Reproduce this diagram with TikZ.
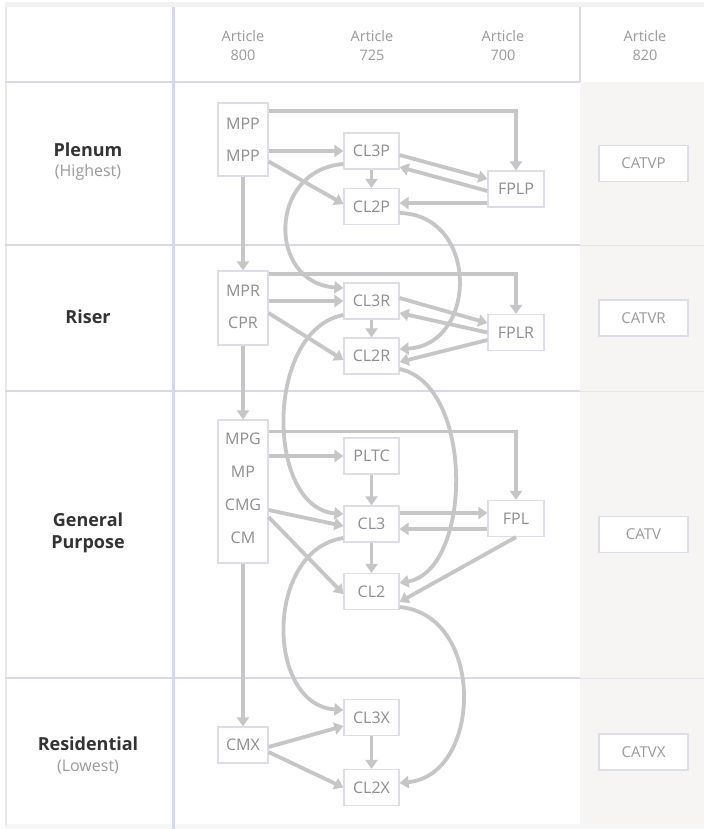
\documentclass[tikz,border=0pt]{standalone}
\usepackage{fontspec}
\setmainfont{Open Sans}
\usetikzlibrary{arrows.meta,calc}
\definecolor{arrowgray}{HTML}{C6C6C6}
\definecolor{boxline}{HTML}{DCDDE5}
\definecolor{boxtext}{HTML}{8E8E8E}
\definecolor{gridline}{HTML}{D7DAE2}
\definecolor{colbg}{HTML}{F6F5F4}
\definecolor{labeltext}{HTML}{333333}
\definecolor{subtext}{HTML}{9A9A9A}
\begin{document}
\begin{tikzpicture}[x=1pt,y=-1pt,
  arr/.style={draw=arrowgray,line width=3.8pt,-{Triangle[length=9pt,width=12pt]}},
  cbox/.style={draw=boxline,line width=1.2pt,fill=white,minimum width=55pt,minimum height=36pt,inner sep=0pt,text=boxtext,font=\fontsize{16}{19}\selectfont},
  tallbox/.style={draw=boxline,line width=1.2pt,fill=white,minimum width=50pt,inner sep=0pt},
  boxlbl/.style={text=boxtext,font=\fontsize{16}{19}\selectfont,inner sep=0pt},
  hdr/.style={text=subtext,font=\fontsize{14.5}{19}\selectfont,align=center,inner sep=0pt},
  rowlbl/.style={text=labeltext,font=\fontsize{18}{22}\selectfont\bfseries,inner sep=0pt},
  rowsub/.style={text=subtext,font=\fontsize{16}{19}\selectfont,inner sep=0pt},
  catvbox/.style={draw=boxline,line width=1.2pt,fill=white,minimum width=89pt,minimum height=36pt,inner sep=0pt,text=subtext,font=\fontsize{15}{18}\selectfont},
]
\useasboundingbox (0,0) rectangle (704,829);
% background and grid
\fill[white] (0,0) rectangle (704,829);
\fill[colbg] (580,82) rectangle (704,826);
\fill[black!5] (5,2) rectangle (704,7);
\fill[black!3] (5,824) rectangle (704,829);
\draw[black!9,line width=1.5pt] (6,7) -- (6,826);
\draw[gridline,line width=2.5pt] (5,82) -- (580,82);
\foreach \yy in {245,391,678}{
  \draw[gridline,line width=2.5pt] (5,\yy) -- (580,\yy);
  \draw[gridline!70,line width=1pt] (580,\yy) -- (704,\yy);
}
\draw[gridline,line width=3pt] (173,7) -- (173,829);
\draw[gridline,line width=2pt] (580,7) -- (580,82);

% headers
\node[hdr] (h800) at (243,46) {Article\\800};
\node[hdr] (h725) at (372,46) {Article\\725};
\node[hdr] (h700) at (503,46) {Article\\700};
\node[hdr] (h820) at (645,46) {Article\\820};

% row labels
\node[rowlbl] (lplenum) at (88,150) {Plenum};
\node[rowsub] (lhigh) at (88,172) {(Highest)};
\node[rowlbl] (lriser) at (88,317) {Riser};
\node[rowlbl] (lgen) at (88,520) {General};
\node[rowlbl] (lpur) at (88,544) {Purpose};
\node[rowlbl] (lres) at (88,744) {Residential};
\node[rowsub] (llow) at (88,767) {(Lowest)};

% Article 800 column
\node[tallbox,minimum height=73pt] (mppbox) at (243,139.5) {};
\node[boxlbl] (mpp1) at (243,124) {MPP};
\node[boxlbl] (mpp2) at (243,156) {MPP};
\node[tallbox,minimum height=74pt] (mprbox) at (243,308) {};
\node[boxlbl] (mpr) at (243,291) {MPR};
\node[boxlbl] (cpr) at (243,323) {CPR};
\node[tallbox,minimum height=143pt] (mpgbox) at (243,491.5) {};
\node[boxlbl] (mpg) at (243,439) {MPG};
\node[boxlbl] (mp) at (243,472) {MP};
\node[boxlbl] (cmg) at (243,505) {CMG};
\node[boxlbl] (cm) at (243,538) {CM};
\node[cbox,minimum width=50pt] (cmx) at (243,745) {CMX};

% Article 725 / 700 columns
\node[cbox] (cl3p) at (371.5,151) {CL3P};
\node[cbox] (cl2p) at (371.5,206.5) {CL2P};
\node[cbox,minimum width=56pt] (fplp) at (516,189) {FPLP};
\node[cbox] (cl3r) at (371.5,301) {CL3R};
\node[cbox] (cl2r) at (371.5,356) {CL2R};
\node[cbox,minimum width=56pt] (fplr) at (516,332.5) {FPLR};
\node[cbox] (pltc) at (371.5,456) {PLTC};
\node[cbox] (cl3) at (371.5,524) {CL3};
\node[cbox] (cl2) at (371.5,591.5) {CL2};
\node[cbox,minimum width=56pt] (fpl) at (516,518.5) {FPL};
\node[cbox] (cl3x) at (371.5,717.5) {CL3X};
\node[cbox] (cl2x) at (371.5,787.5) {CL2X};

% Article 820 column
\node[catvbox] (catvp) at (643.5,163.5) {CATVP};
\node[catvbox] (catvr) at (643.5,318) {CATVR};
\node[catvbox] (catv) at (643.5,534.5) {CATV};
\node[catvbox] (catvx) at (643.5,752) {CATVX};

% vertical arrows in Article 800 column
\draw[arr] (mppbox) -- (mprbox);
\draw[arr] (mprbox) -- (mpgbox);
\draw[arr] (mpgbox) -- (cmx);

% Plenum
\draw[arr] ([yshift=-9pt]mppbox.north east) -| (fplp.north);
\draw[arr] (mppbox.east |- cl3p.west) -- (cl3p.west);
\draw[arr] ([yshift=-22pt]mppbox.east) -- ([yshift=2.5pt]cl2p.west);
\draw[arr] (cl3p) -- (cl2p);
\draw[arr] ([yshift=-4pt]cl3p.east) -- ([yshift=10pt]fplp.west);
\draw[arr] ([yshift=-2pt]fplp.west) -- ([yshift=-16pt]cl3p.east);
\coordinate (fp1) at ([yshift=-14pt]fplp.west);
\draw[arr] (fp1) -- (fp1 -| cl2p.east);
\draw[arr] ([yshift=-13pt]cl3p.west) .. controls +(-76,6) and +(-76,-5) .. ([yshift=13pt]cl3r.west);
\draw[arr] ([yshift=-6.5pt]cl2p.east) .. controls +(80,2) and +(78,-4) .. ([yshift=7pt]cl2r.east);

% Riser
\draw[arr] ([yshift=-3.5pt]mprbox.north east) -| (fplr.north);
\draw[arr] (mprbox.east |- cl3r.west) -- (cl3r.west);
\draw[arr] ([yshift=-5pt]mprbox.east) -- ([yshift=-4pt]cl2r.west);
\draw[arr] (cl3r) -- (cl2r);
\draw[arr] ([yshift=3pt]cl3r.east) -- ([yshift=9.5pt]fplr.west);
\draw[arr] (fplr.west) -- ([yshift=-12pt]cl3r.east);
\draw[arr] ([yshift=-7.5pt]fplr.west) -- ([yshift=-6pt]cl2r.east);
\draw[arr] ([yshift=-14pt]cl3r.west) .. controls +(-79,15) and +(-78,-6) .. ([yshift=10pt]cl3.west);
\draw[arr] ([yshift=-13pt]cl2r.east) .. controls +(75,16) and +(73,-13) .. ([yshift=8.5pt]cl2.east);

% General Purpose
\draw[arr] ([yshift=-12pt]mpgbox.north east) -| (fpl.north);
\draw[arr] (mpgbox.east |- pltc.west) -- (pltc.west);
\draw[arr] (pltc) -- (cl3);
\draw[arr] ([yshift=-18.5pt]mpgbox.east) -- ([yshift=-2pt]cl3.west);
\draw[arr] ([yshift=-25.5pt]mpgbox.east) -- ([yshift=-2.5pt]cl2.west);
\coordinate (c3a) at ([yshift=11pt]cl3.east);
\draw[arr] (c3a) -- (c3a -| fpl.west);
\coordinate (fa) at ([yshift=-10.5pt]fpl.west);
\draw[arr] (fa) -- (fa -| cl3.east);
\draw[arr] (cl3) -- (cl2);
\draw[arr] (fpl.south) -- ([yshift=-10.5pt]cl2.east);
\draw[arr] ([yshift=-14pt]cl3.west) .. controls +(-79,12) and +(-78,-5) .. ([yshift=7.5pt]cl3x.west);
\draw[arr] ([yshift=-15.5pt]cl2.east) .. controls +(86,8) and +(83,-8) .. ([yshift=4.5pt]cl2x.east);

% Residential
\draw[arr] ([yshift=-2pt]cmx.east) -- ([yshift=-8.5pt]cl3x.west);
\draw[arr] ([yshift=-7pt]cmx.east) -- (cl2x.west);
\draw[arr] (cl3x) -- (cl2x);
\end{tikzpicture}
\end{document}
